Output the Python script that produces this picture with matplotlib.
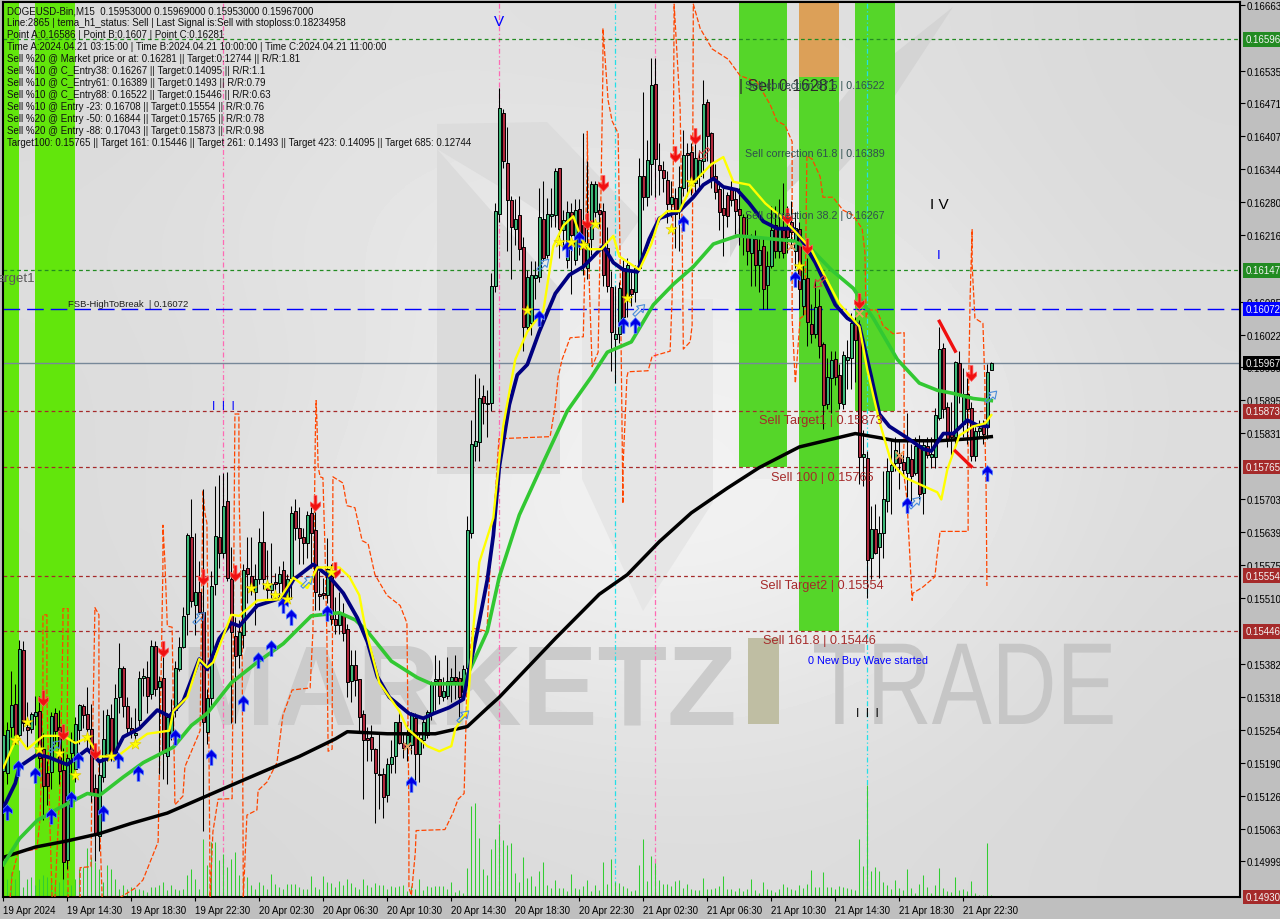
import numpy as np
import matplotlib
matplotlib.use('Agg')
import matplotlib.pyplot as plt
from matplotlib.path import Path
from matplotlib.patheffects import AbstractPathEffect
from matplotlib.transforms import Affine2D

# candles, prices in 1e-5 units, one entry per M15 bar
candle_dir = ("GGGRGRRGGR" "RRGRRRGGGG" "RRRRGGGRGG" "RRRGGGRGRG" "RGGGGGGRGR"
              "RGGGRGRRRG" "GRRGGRRGRG" "RGGRRRGRRR" "RGRRGRRGRR" "RRRRRRGGGR"
              "RGGRGGGGGR" "GGGRRGGGGG" "RGGGGRRRGR" "RGGGGRGGGR" "GGRGRRGGGR"
              "RRRGGRGRGG" "RGGRRRRGRG" "GRRGGGRRRR" "RRRRRRRGRG" "RGGRGRRRGR"
              "GRRGRRGGRR" "GGGRRGRGRG" "GGGGRRGRGR" "GRGGGRRRGR" "GRRGGRGG")
body_top = [15244,15254,15302,15304,15412,15410,15260,15286,15290,15292,
            15218,15170,15282,15288,15260,15176,15200,15234,15266,15302,
            15300,15286,15256,15142,15166,15236,15284,15278,15316,15374,
            15374,15300,15258,15248,15356,15360,15358,15418,15418,15350,
            15356,15280,15290,15374,15416,15476,15633,15629,15523,15523,
            15484,15316,15533,15631,15629,15689,15699,15547,15436,15444,
            15565,15569,15553,15547,15619,15619,15539,15537,15541,15557,
            15565,15547,15675,15679,15647,15629,15671,15675,15643,15519,
            15521,15567,15553,15470,15480,15480,15450,15380,15380,15354,
            15286,15238,15240,15218,15168,15168,15188,15202,15270,15270,
            15230,15244,15288,15278,15238,15270,15290,15344,15354,15354,
            15330,15350,15358,15358,15356,15372,15643,15809,15815,15899,
            15903,15889,16117,16263,16462,16452,16356,16283,16247,16255,
            16193,16135,16137,16137,16251,16247,16257,16257,16340,16346,
            16245,16261,16261,16265,16267,16235,16201,16314,16314,16265,
            16263,16191,16115,16023,16113,16151,16157,16111,16151,16330,
            16330,16362,16506,16508,16352,16342,16322,16290,16287,16308,
            16370,16374,16376,16366,16362,16470,16474,16414,16330,16304,
            16269,16294,16304,16286,16267,16251,16211,16211,16207,16187,
            16195,16155,16225,16235,16231,16225,16231,16241,16229,16227,
            16131,16133,16043,16075,16077,16003,15939,15973,15975,15943,
            15983,15979,16045,16045,16035,15791,15783,15645,15645,15637,
            15703,15757,15769,15799,15789,15775,15785,15781,15805,15807,
            15807,15805,15791,15867,15995,15997,15881,15833,15969,15967,
            15907,15907,15879,15835,15841,15847,15949,15967]
body_bot = [15174,15170,15260,15244,15244,15268,15254,15256,15282,15200,
            15146,15146,15172,15252,15174,14998,15002,15210,15178,15254,
            15284,15256,15132,15050,15048,15164,15204,15200,15200,15318,
            15300,15258,15250,15244,15274,15356,15320,15324,15334,15338,
            15210,15204,15244,15294,15372,15416,15480,15505,15498,15484,
            15270,15250,15316,15537,15599,15599,15549,15444,15398,15400,
            15438,15557,15529,15523,15547,15547,15527,15527,15537,15539,
            15510,15507,15549,15647,15627,15617,15617,15637,15523,15515,
            15517,15517,15470,15458,15458,15442,15348,15350,15352,15280,
            15234,15234,15218,15170,15166,15124,15128,15188,15204,15230,
            15220,15224,15226,15208,15208,15234,15244,15288,15350,15320,
            15318,15320,15350,15350,15318,15328,15374,15637,15805,15813,
            15889,15887,15889,16117,16257,16360,16283,16231,16227,16189,
            16037,16037,16045,16133,16135,16171,16177,16253,16255,16227,
            16225,16167,16215,16167,16197,16157,16151,16207,16261,16257,
            16137,16117,16027,16013,16023,16057,16091,16101,16105,16151,
            16289,16289,16354,16364,16342,16326,16275,16275,16257,16267,
            16306,16370,16316,16316,16330,16360,16408,16324,16300,16261,
            16255,16253,16284,16263,16255,16211,16185,16181,16157,16157,
            16111,16119,16155,16185,16185,16181,16211,16221,16185,16111,
            16077,16047,16023,16023,16001,15885,15887,15937,15939,15889,
            15887,15973,15977,16011,15785,15785,15585,15589,15599,15609,
            15637,15699,15757,15773,15773,15759,15753,15747,15753,15713,
            15715,15789,15785,15785,15861,15877,15817,15823,15823,15905,
            15849,15877,15787,15787,15835,15829,15843,15953]
highs = [15264,15270,15368,15344,15430,15428,15308,15290,15320,15320,
         15248,15194,15290,15298,15294,15220,15208,15250,15280,15304,
         15304,15338,15304,15168,15194,15294,15296,15304,15344,15424,
         15378,15318,15280,15298,15368,15374,15388,15430,15428,15360,
         15398,15288,15314,15388,15434,15494,15637,15703,15637,15583,
         15723,15334,15563,15729,15749,15753,15755,15609,15474,15468,
         15577,15629,15629,15577,15647,15679,15603,15617,15559,15573,
         15583,15557,15689,15703,15687,15647,15679,15687,15677,15563,
         15549,15627,15577,15513,15523,15500,15460,15410,15410,15354,
         15294,15260,15264,15220,15250,15180,15200,15234,15270,15294,
         15248,15264,15290,15288,15248,15278,15294,15350,15400,15390,
         15358,15396,15374,15400,15368,15380,15669,15857,15945,15937,
         15925,15915,16141,16277,16502,16460,16426,16291,16285,16291,
         16211,16147,16165,16165,16306,16320,16287,16306,16346,16346,
         16265,16281,16277,16285,16285,16414,16360,16320,16320,16277,
         16277,16231,16145,16117,16125,16167,16171,16145,16157,16366,
         16494,16400,16560,16560,16394,16360,16340,16320,16306,16350,
         16420,16394,16394,16420,16380,16516,16480,16416,16354,16320,
         16306,16300,16320,16306,16306,16257,16257,16217,16225,16211,
         16211,16185,16271,16271,16285,16316,16271,16281,16261,16241,
         16157,16171,16081,16131,16111,16007,15977,15991,15991,15965,
         15991,16011,16065,16057,16051,15837,15797,15689,15693,15669,
         15757,15783,15817,15823,15817,15789,15869,15809,15823,15827,
         15819,15823,15823,15879,16037,16005,15891,15891,15971,15991,
         15957,15937,15891,15843,15857,15857,15965,15969]
lows = [15154,15150,15240,15228,15234,15252,15220,15248,15264,15180,
        15080,15108,15140,15228,15150,14964,14984,15170,15154,15228,
        15258,15214,15114,15000,15020,15154,15194,15194,15198,15288,
        15280,15248,15238,15234,15260,15320,15288,15314,15320,15168,
        15160,15150,15234,15280,15368,15414,15438,15494,15438,15480,
        15058,15228,15300,15517,15569,15589,15543,15268,15268,15374,
        15414,15500,15517,15458,15537,15529,15509,15510,15508,15509,
        15494,15500,15509,15623,15577,15577,15589,15569,15488,15488,
        15508,15500,15458,15440,15440,15428,15318,15308,15320,15248,
        15120,15194,15194,15074,15100,15084,15114,15170,15170,15228,
        15200,15194,15208,15154,15154,15220,15238,15274,15294,15304,
        15310,15314,15308,15314,15278,15320,15354,15627,15777,15777,
        15849,15823,15873,16105,16241,16346,16185,16131,16197,16167,
        15991,16027,16021,16091,16125,16165,16171,16231,16231,16171,
        16191,16151,16101,16157,16177,16137,16131,16177,16251,16231,
        16117,16105,15951,15929,16005,16025,16057,16077,16085,16145,
        16265,16271,16294,16290,16294,16300,16239,16251,16191,16185,
        16291,16291,16294,16291,16306,16326,16360,16306,16285,16225,
        16175,16231,16271,16217,16197,16177,16157,16117,16117,16105,
        16071,16071,16151,16171,16171,16171,16181,16191,16151,16071,
        16061,16001,16005,16015,15977,15839,15877,15869,15925,15877,
        15877,15917,15917,15931,15733,15729,15510,15547,15597,15549,
        15589,15677,15673,15757,15723,15749,15687,15697,15749,15703,
        15673,15783,15763,15763,15857,15861,15803,15789,15807,15889,
        15823,15809,15777,15777,15823,15809,15819,15953]
volume = [23,18,25,18,27,10,18,20,12,18,22,20,18,15,15,20,8,12,18,28,
          30,49,40,35,28,15,32,28,18,8,12,8,10,8,8,7,5,10,10,12,
          15,7,12,8,7,8,22,28,18,8,58,32,55,55,37,43,30,38,45,22,
          20,20,12,8,15,12,8,23,13,10,8,13,13,13,10,8,8,21,10,8,
          21,15,14,10,16,12,18,14,10,8,18,12,10,14,12,
          12,8,11,10,11,12,6,11,8,18,7,11,10,11,11,11,8,15,5,7,
          4,29,91,94,59,28,22,48,58,73,57,52,54,24,15,40,19,21,11,26,
          35,12,9,17,9,9,6,23,9,8,11,17,6,12,7,35,13,38,15,14,
          11,9,6,7,32,58,16,41,34,17,13,13,11,16,17,9,13,8,7,7,
          19,8,8,9,11,21,8,8,6,9,6,8,18,7,4,15,8,7,5,8,
          13,10,8,7,12,9,13,27,10,10,25,10,10,8,11,10,9,8,7,58,
          31,112,26,30,26,15,12,8,17,9,7,28,9,4,13,22,10,4,12,29,
          9,6,5,20,7,8,6,16,4,2,2,54,2]

# moving averages (bar, price in 1e-5)
ma_black_x = [0,8,16,24,32,41,49,57,66,74,83,86,96,108,116,121,124,138,149,156,
              164,172,181,189,199,213,219,223,234,242,247]
ma_black_y = [15007,15027,15039,15053,15073,15093,15120,15147,15177,15203,15237,
              15251,15247,15247,15261,15297,15318,15432,15518,15556,15620,15676,
              15724,15764,15804,15830,15822,15816,15816,15820,15824]
ma_green_x = [0,4,8.5,14,21,24,30,35,42.5,47,51,57,63.5,70,77,84,88,91,97,103.5,
              107,115,117.5,121,124,129,135,141,147,151,157,162.5,167.5,172.5,
              177.5,183.5,189.5,197.5,202,207,212.5,217.5,223.5,229,233.5,237.5,
              242.5,247]
ma_green_y = [14993,15043,15079,15103,15131,15127,15163,15191,15221,15263,15287,
              15346,15386,15422,15476,15482,15468,15446,15388,15356,15344,15344,
              15386,15446,15552,15672,15774,15874,15940,15988,16008,16080,16120,
              16154,16198,16214,16210,16204,16188,16148,16112,16054,15974,15928,
              15914,15908,15898,15894]
ma_navy_x = [0,3,4,8.5,11.5,16,21,24,27.5,30,34,38.5,41.5,45,49,51,54,57,59,63.5,
             70,72.5,77.5,81.5,85,88.5,91,93.5,96.5,101.5,105,107.5,111.5,115,
             116.5,118.5,121,122.5,124,126.5,128.5,131,134,138,141.5,145,147.5,
             150,152.5,155,158.5,161.5,164,169,172.5,175,177.5,180,183.5,186.5,
             190,193.5,197.5,199,203,208,211,214,217,219,221.5,225.5,230,232,235,
             237.5,241,243.5,246]
ma_navy_y = [15103,15151,15183,15207,15201,15187,15217,15193,15203,15241,15257,
             15293,15281,15311,15392,15372,15432,15462,15456,15496,15512,15546,
             15576,15552,15520,15472,15426,15358,15318,15286,15277,15286,15298,
             15314,15372,15446,15546,15632,15766,15886,15944,15964,16028,16102,
             16138,16154,16174,16194,16162,16148,16144,16208,16248,16262,16289,
             16313,16325,16309,16303,16277,16242,16228,16228,16214,16162,16080,
             16054,16040,15940,15868,15844,15824,15800,15796,15830,15830,15856,
             15846,15844]
ma_yellow_x = [0,3.5,6,10,15,18,21,24,28.5,32.5,36,41.5,42.5,46,49,51,52.5,57,59,
               63.5,69,72.5,76,78.5,84,86.5,89,90.5,94,99,101,106,109,112,113,116,
               117.5,119,122.5,124,125,128,131,135,137.5,140,142.5,144.5,146.5,
               149.5,152.5,154,159,162,164,166,169,172.5,177,180,182.5,186.5,190.5,
               194,198,202,205.5,209,214,216,219,222,225.5,233.5,234.5,236,239,
               242.5,245.5,247]
ma_yellow_y = [15181,15243,15217,15243,15243,15229,15239,15203,15203,15227,15247,
               15253,15291,15318,15392,15376,15386,15478,15476,15506,15508,15550,
               15530,15570,15570,15552,15516,15452,15346,15291,15257,15223,15213,
               15223,15257,15291,15452,15580,15666,15780,15846,15974,16028,16068,
               16194,16234,16252,16208,16188,16188,16214,16174,16148,16198,16248,
               16262,16262,16317,16353,16367,16319,16313,16277,16254,16222,16188,
               16134,16082,16038,15954,15854,15774,15744,15716,15702,15760,15826,
               15844,15850,15866]

# dashed orange-red envelope
band_x = [1.7,2.2,3.7,8.4,9.2,9.9,9.9,10.9,10.9,11.7,12.2,12.9,14.2,14.9,14.9,16.2,
          15.9,16.2,19.2,19.2,21.9,22.2,22.9,23.9,23.9,24.7,29.2,32.9,34.9,38.7,
          39.2,39.9,39.9,40.4,41,42.2,42.9,44.9,45.4,49.2,49.9,50.4,50.9,51.2,51.7,
          52.4,53.7,57.2,57.4,57.9,58.9,58.9,59.7,60,60.9,63.4,63.7,65.9,68.4,69.9,
          72.2,76.7,77.4,78,78.2,78.4,78.7,79.2,79.9,80.4,80.9,81.2,82.2,82.4,84.9,
          85.9,87.9,89.7,91.2,92.9,95.9,99.2,100.9,101.4,101.4,102,103,103.2,110.4,
          112.4,113.7,115.2,115.7,115.9,117.4,120.9,121.7,122.4,123.9,136.7,137.9,
          138.7,139.7,141.7,145,145.2,146,146,146.5,147.2,148.7,149.2,149.9,149.9,
          151.2,152.2,153.7,154.2,154.9,154.9,155.9,156.2,161.2,162.2,166.7,167.2,
          167.5,167.7,169.2,169.7,170,171.7,172.2,172.5,174.2,177.2,181.2,184.2,
          188.4,191.7,193.4,195.4,197.2,197.2,198,199.2,200.4,200.9,202.2,204.2,
          204.9,207.4,209.9,212.4,214.7,215.4,215.7,216.2,218.4,219.9,222.4,225.2,
          225.2,224.9,225.9,227.2,227.4,229.9,232.9,233.4,234.2,241.2,241.2,241.7,
          242.2,242.2,242.9,244.9,245.4,245.4,245.7,245.9]
band_y = [14929,14973,15017,15023,15083,15317,15478,15478,15317,15057,14929,14929,
          15151,15446,15490,15490,15183,14929,14929,14987,14989,15183,15492,15478,
          15120,14929,14929,14947,14963,15037,15251,15572,15652,15580,15456,15454,
          15109,15126,15183,15253,15720,15676,15656,15432,14929,15057,15120,15121,
          15346,15868,15868,15726,15432,14929,15089,15099,15137,15153,15191,15283,
          15332,15336,15446,15826,15894,15854,15766,15746,15744,15612,15432,15213,
          15217,15746,15734,15690,15686,15622,15616,15556,15516,15496,15462,15097,
          14949,14933,15017,15059,15061,15093,15120,15131,15277,15352,15452,15446,
          15572,15640,15820,15824,15880,15940,15974,16016,16018,16094,16363,16417,
          16118,15960,15988,16194,16537,16617,16477,16437,16413,16168,15694,15760,
          15940,15950,15952,15980,15990,16094,16363,16664,16463,16234,15994,16008,
          16040,16664,16617,16577,16557,16525,16513,16469,16437,16429,16397,16054,
          15928,16054,16060,16369,16363,16329,16289,16289,16264,16254,16228,16182,
          16054,16070,16070,16040,16024,16026,15814,15766,15703,15506,15520,15532,
          15552,15590,15640,15640,15866,16094,16226,16158,16054,16044,15928,15832,
          15720,15534]

# signal markers
up_x = [1,3.7,8,12,17,18.7,25,28.7,33.7,43,52,60,63.7,67,70,72,81,102,134,155,158,141,144,170,198,226,246]
up_y = [15095,15181,15167,15087,15120,15197,15093,15197,15171,15241,15201,15307,15390,
        15414,15498,15474,15482,15149,16054,16040,16040,16188,16208,16238,16130,15692,15754]
down_x = [10,15,23,40,50,58,78,83,146,150,168,173,196,201,214,242]
down_y = [15317,15251,15213,15412,15552,15560,15696,15566,16242,16317,16373,16407,16252,16194,16088,15948]
star_x = [3,6,9,14,18,21,27,33,62,66,68,71,82,131,139,142,145,148,156,167,172,199]
star_y = [15235,15269,15217,15209,15167,15241,15203,15227,15530,15536,15516,15508,15562,
          16070,16202,16202,16196,16236,16094,16228,16319,16156]
hollow_up_x = [13,49,76,115,135,159,228,247]
hollow_up_y = [15223,15472,15542,15281,16158,16070,15696,15902]
hollow_down_x = [175,204]
hollow_down_y = [16373,16124]
cross_x = [214,224,197,101]
cross_y = [16064,15788,16194,15223]

# horizontal levels and time lines
level_green = [0.16596, 0.16147]
level_brown = [0.15873, 0.15765, 0.15554, 0.15446, 0.14930]
level_blue = 0.16072
level_last = 0.15967
pink_bars = [55, 124, 163]
cyan_bars = [153, 216]

# coloured zones: bar from, bar to, price bottom
zone_left = [-0.1, 8, 184, 199, 213]
zone_right = [4, 18, 196, 209, 223]
zone_bottom = [0.14930, 0.14930, 0.15765, 0.15446, 0.15873]
zone_orange = (199, 209, 0.16522)

# axis labels
ytick_values = [0.16663,0.16535,0.16471,0.16407,0.16344,0.16280,0.16216,0.16085,0.16022,
                0.15959,0.15895,0.15831,0.15703,0.15639,0.15575,0.15510,0.15382,0.15318,
                0.15254,0.15190,0.15126,0.15063,0.14999]
xtick_bars = list(range(0, 256, 16))
xtick_labels = ['19 Apr 2024','19 Apr 14:30','19 Apr 18:30','19 Apr 22:30','20 Apr 02:30',
                '20 Apr 06:30','20 Apr 10:30','20 Apr 14:30','20 Apr 18:30','20 Apr 22:30',
                '21 Apr 02:30','21 Apr 06:30','21 Apr 10:30','21 Apr 14:30','21 Apr 18:30',
                '21 Apr 22:30']
header_lines = [
    'DOGEUSD-Bin,M15  0.15953000 0.15969000 0.15953000 0.15967000',
    'Line:2865 | tema_h1_status: Sell | Last Signal is:Sell with stoploss:0.18234958',
    'Point A:0.16586 | Point B:0.1607 | Point C:0.16281',
    'Time A:2024.04.21 03:15:00 | Time B:2024.04.21 10:00:00 | Time C:2024.04.21 11:00:00',
    'Sell %20 @ Market price or at: 0.16281 || Target:0.12744 || R/R:1.81',
    'Sell %10 @ C_Entry38: 0.16267 || Target:0.14095 || R/R:1.1',
    'Sell %10 @ C_Entry61: 0.16389 || Target:0.1493 || R/R:0.79',
    'Sell %10 @ C_Entry88: 0.16522 || Target:0.15446 || R/R:0.63',
    'Sell %10 @ Entry -23: 0.16708 || Target:0.15554 || R/R:0.76',
    'Sell %20 @ Entry -50: 0.16844 || Target:0.15765 || R/R:0.78',
    'Sell %20 @ Entry -88: 0.17043 || Target:0.15873 || R/R:0.98',
    'Target100: 0.15765 || Target 161: 0.15446 || Target 261: 0.1493 || Target 423: 0.14095 || Target 685: 0.12744',
]

plt.rcParams['font.family'] = ['Liberation Sans', 'DejaVu Sans']
FIG_W, FIG_H = 1280, 920
PLOT_L, PLOT_R, PLOT_T, PLOT_B = 3, 1240, 3, 898
PRICE_PER_PX = 1.942e-5


class Squeeze(AbstractPathEffect):
    # narrows a text horizontally, there is no condensed font here
    def __init__(self, x0, factor):
        super().__init__()
        self.x0, self.factor = x0, factor

    def draw_path(self, renderer, gc, tpath, affine, rgbFace=None):
        squeeze = Affine2D().translate(-self.x0, 0).scale(self.factor, 1).translate(self.x0, 0)
        renderer.draw_path(gc, tpath, affine + squeeze, rgbFace)


fig = plt.figure(figsize=(FIG_W / 100, FIG_H / 100), dpi=100, facecolor='#bfbfbf')

# background with the watermark, drawn in pixels
bg = fig.add_axes([0, 0, 1, 1], zorder=0)
bg.set_xlim(0, FIG_W)
bg.set_ylim(FIG_H, 0)
bg.axis('off')
shades = np.array([[216, 226, 222, 224, 216],
                   [221, 230, 235, 229, 218],
                   [219, 226, 242, 240, 220],
                   [219, 232, 246, 240, 219],
                   [217, 226, 234, 230, 216],
                   [214, 218, 220, 220, 215]]) / 255
bg.imshow(shades, cmap='gray', vmin=0, vmax=1, aspect='auto', interpolation='bicubic',
          extent=(PLOT_L, PLOT_R, PLOT_B, PLOT_T), zorder=0)
bg.set_xlim(0, FIG_W)
bg.set_ylim(FIG_H, 0)
shapes = [
    ([(437, 150), (437, 475), (560, 475), (560, 290)], '#dbdbdb'),
    ([(582, 300), (582, 480), (643, 612), (713, 503), (713, 300)], '#e6e6e6'),
    ([(437, 125), (547, 123), (640, 220), (612, 260), (520, 200), (437, 150)], '#dcdcdc'),
    ([(953, 8), (860, 150), (730, 290), (730, 240), (850, 90)], '#d4d4d4'),
    ([(655, 290), (713, 290), (740, 240), (800, 180), (800, 480), (740, 480), (740, 300)], '#ececec'),
]
for verts, color in shapes:
    bg.fill(*zip(*verts), color=color, lw=0, zorder=1)
bg.text(180, 725, 'MARKETZ', fontsize=82, fontweight='bold', color='#cbcbcb', va='baseline', zorder=2)
bg.fill([748, 779, 779, 748], [639, 639, 725, 725], color='#bfbea3', lw=0, zorder=2)
trade = bg.text(812, 725, 'TRADE', fontsize=84, color='#c6c6c6', va='baseline', zorder=2)
trade.set_path_effects([Squeeze(812, 0.77)])

# main chart, one unit on x is a bar (4 px)
ax = fig.add_axes([PLOT_L / FIG_W, 1 - PLOT_B / FIG_H, (PLOT_R - PLOT_L) / FIG_W, (PLOT_B - PLOT_T) / FIG_H],
                  zorder=1, facecolor='none')
ylim_top = 0.14930 + (PLOT_B - PLOT_T) * PRICE_PER_PX
ax.set_xlim(-0.08, (PLOT_R - PLOT_L) / 4 - 0.08)
ax.set_ylim(0.14930, ylim_top)

for left, right, bottom in zip(zone_left, zone_right, zone_bottom):
    top = zone_orange[2] if left == zone_orange[0] else ylim_top
    ax.axvspan(left, right, ymin=(bottom - 0.14930) / (ylim_top - 0.14930),
               ymax=(top - 0.14930) / (ylim_top - 0.14930),
               color='#62e60c' if left < 100 else '#55d629', lw=0, zorder=1)
ax.axvspan(zone_orange[0], zone_orange[1],
           ymin=(zone_orange[2] - 0.14930) / (ylim_top - 0.14930), ymax=1,
           color='#dca058', lw=0, zorder=1)

ax.vlines(pink_bars, 0.14930, ylim_top, color='#ff69b4', lw=0.9, linestyles=(0, (4, 2, 1, 2)), zorder=2)
ax.vlines(cyan_bars, 0.14930, ylim_top, color='#22e0e8', lw=0.9, linestyles=(0, (4, 2, 1, 2)), zorder=2)

# levels
for lev in level_green:
    ax.axhline(lev, color='#228b22', lw=0.9, ls=(0, (3, 2.5)), zorder=2)
for lev in level_brown:
    ax.axhline(lev, color='#a52a2a', lw=0.9, ls=(0, (3, 2.5)), zorder=2)
ax.axhline(level_blue, color='#0000ff', lw=1, ls=(0, (12, 5)), zorder=2)
ax.axhline(level_last, color='#778899', lw=1, zorder=2)

# volume sits on the bottom of the price axis
vol_bars = np.arange(len(volume))
vol_lines = ax.vlines(vol_bars, 0.14930, 0.14930 + np.array(volume) * PRICE_PER_PX, color='#32cd32', lw=0.75, zorder=2)
vol_lines.set_snap(True)

ax.plot(np.array(band_x), np.array(band_y) / 1e5, color='#ff4500', lw=0.9, ls=(0, (4, 1.6)), zorder=3)

# candles
bars = np.arange(len(body_top))
bull = np.array([c == 'G' for c in candle_dir])
top = np.array(body_top) / 1e5
bot = np.array(body_bot) / 1e5
wicks = ax.vlines(bars, np.array(lows) / 1e5, np.array(highs) / 1e5, color='black', lw=0.75, zorder=4)
wicks.set_snap(True)
ax.bar(bars[bull], (top - bot)[bull], bottom=bot[bull], width=0.72, color='#3cb878', edgecolor='black', lw=0.7, zorder=5)
ax.bar(bars[~bull], (top - bot)[~bull], bottom=bot[~bull], width=0.72, color='#b0283c', edgecolor='black', lw=0.7, zorder=5)

ax.plot(ma_black_x, np.array(ma_black_y) / 1e5, color='black', lw=2.5, zorder=6)
ax.plot(ma_green_x, np.array(ma_green_y) / 1e5, color='#32c832', lw=2.6, zorder=6)
ax.plot(ma_navy_x, np.array(ma_navy_y) / 1e5, color='#000080', lw=2.7, zorder=7)
ax.plot(ma_yellow_x, np.array(ma_yellow_y) / 1e5, color='#ffff00', lw=1.7, zorder=8)

# red wave strokes
ax.plot([234, 238], [0.16048, 0.15990], color='#f01010', lw=2.4, zorder=8)
ax.plot([238, 242], [0.15796, 0.15766], color='#f01010', lw=2.4, zorder=8)

# arrow markers
arrow = Path([(-0.18, -1), (0.18, -1), (0.18, 0.1), (0.65, -0.2), (0.65, 0.3), (0, 1),
              (-0.65, 0.3), (-0.65, -0.2), (-0.18, 0.1), (-0.18, -1)], closed=True)
arrow_down = arrow.transformed(Affine2D().scale(1, -1))
outline = Path([(-0.2, -1), (0.2, -1), (0.2, 0.1), (0.6, 0.1), (0, 1), (-0.6, 0.1), (-0.2, 0.1), (-0.2, -1)], closed=True)
ax.scatter(up_x, np.array(up_y) / 1e5, marker=arrow, s=130, color='#0000e6', edgecolor='#5c8cff', lw=0.5, zorder=9)
ax.scatter(down_x, np.array(down_y) / 1e5, marker=arrow_down, s=130, color='#f01010', edgecolor='#ff6060', lw=0.5, zorder=9)
ax.scatter(star_x, np.array(star_y) / 1e5, marker='*', s=70, color='#ffff00', edgecolor='#d8c000', lw=0.4, zorder=9)
ax.scatter(hollow_up_x, np.array(hollow_up_y) / 1e5, marker=outline.transformed(Affine2D().rotate_deg(-45)), s=85,
           facecolor='none', edgecolor='#4a8cd8', lw=0.8, zorder=9)
ax.scatter(hollow_down_x, np.array(hollow_down_y) / 1e5, marker=outline.transformed(Affine2D().rotate_deg(135)), s=85,
           facecolor='none', edgecolor='#d84040', lw=0.8, zorder=9)
ax.scatter(cross_x, np.array(cross_y) / 1e5, marker='x', s=28, color='#e8a060', lw=1.3, zorder=9)

# axes look
for spine in ax.spines.values():
    spine.set_linewidth(1.5)
    spine.set_color('black')
ax.yaxis.tick_right()
ax.set_yticks(ytick_values, [f'{v:.5f}' for v in ytick_values])
ax.set_xticks(xtick_bars, xtick_labels)
ax.tick_params(axis='y', length=3.5, width=0.8, pad=1.5, labelsize=7)
ax.tick_params(axis='x', length=3, width=0.8, pad=3, labelsize=7)
for lbl in ax.get_xticklabels():
    lbl.set_ha('left')

# price tags on the right
tags = [(level_green[0], '#228b22'), (level_green[1], '#228b22'), (level_blue, '#0000ff'), (level_last, 'black')]
tags += [(lev, '#a52a2a') for lev in level_brown]
for price, color in tags:
    ax.annotate(f'{price:.5f}', xy=(1, price), xycoords=ax.get_yaxis_transform(), xytext=(4, 0),
                textcoords='offset points', va='center', ha='left', fontsize=7, color='#f4f4f4',
                annotation_clip=False, zorder=20,
                bbox=dict(boxstyle='square,pad=0.25', fc=color, ec='none'))

# text overlay, in pixels
over = fig.add_axes([0, 0, 1, 1], zorder=2, facecolor='none')
over.set_xlim(0, FIG_W)
over.set_ylim(FIG_H, 0)
over.axis('off')
for k, line in enumerate(header_lines):
    over.text(7, 11 + 12 * k, line, fontsize=7.0, color='#101010', va='center')
over.text(-2, 279, 'arget1', fontsize=9.5, color='#5a5a5a', va='center')
over.text(68, 305, 'FSB-HighToBreak  | 0.16072', fontsize=6.8, color='#202020', va='center')
over.text(739, 86, '| Sell 0.16281', fontsize=11.5, color='#2a2a2a', va='center')
for y, txt in [(86, 'Sell correction 87.5 | 0.16522'), (154, 'Sell correction 61.8 | 0.16389'),
               (216, 'Sell correction 38.2 | 0.16267')]:
    over.text(745, y, txt, fontsize=7.7, color='#2f4f4f', va='center')
for x, y, txt in [(759, 421, 'Sell Target1 | 0.15873'), (771, 478, 'Sell 100 | 0.15765'),
                  (760, 586, 'Sell Target2 | 0.15554'), (763, 641, 'Sell 161.8 | 0.15446')]:
    over.text(x, y, txt, fontsize=9.2, color='#a52a2a', va='center')
over.text(808, 661, '0 New Buy Wave started', fontsize=7.8, color='#0000ff', va='center')
over.text(499, 22, 'V', fontsize=11, color='#0000ff', ha='center', va='center')
over.text(223, 407, 'I  I  I', fontsize=8.5, color='#0000ff', ha='center', va='center')
over.text(867, 714, 'I  I  I', fontsize=8.5, color='black', ha='center', va='center')
over.text(939, 205, 'I V', fontsize=11, color='black', ha='center', va='center')
over.text(939, 256, 'I', fontsize=9.5, color='#0000ff', ha='center', va='center')

fig.savefig('out.png', dpi=100, facecolor=fig.get_facecolor())
